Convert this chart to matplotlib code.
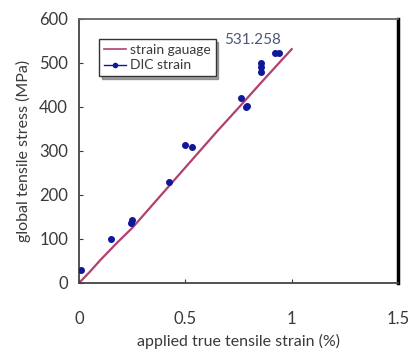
import matplotlib
matplotlib.use('Agg')
import matplotlib.pyplot as plt
from matplotlib.lines import Line2D

# strain gauge curve (applied true strain %, stress MPa)
gauge_strain = [0.0, 0.05, 0.1, 0.18, 0.25, 0.35, 0.45, 0.55, 0.65, 0.75, 0.85, 0.95, 1.0]
gauge_stress = [0, 25, 52, 92, 125, 180, 235, 290, 345, 398, 452, 505, 531.258]

# DIC strain points
dic_strain = [0.01, 0.15, 0.245, 0.25, 0.425, 0.50, 0.53, 0.76, 0.785, 0.79, 0.855, 0.855, 0.855, 0.92, 0.94]
dic_stress = [30, 100, 137, 143, 230, 314, 309, 420, 400, 403, 500, 490, 480, 522, 522]

peak_label = '531.258'

plt.rcParams['font.family'] = ['Lato', 'DejaVu Sans']
text_color = '#3a3a3a'

fig = plt.figure(figsize=(4.12, 3.51), dpi=100)
ax = fig.add_axes([0.192, 0.194, 0.774, 0.752])

ax.plot(gauge_strain, gauge_stress, color='#b04070', linewidth=1.6, zorder=2)
ax.plot(dic_strain, dic_stress, linestyle='none', marker='o', markersize=4,
        color='#10189a', zorder=3)

ax.text(0.68, 553, peak_label, fontsize=11, color='#4a5a78', va='center', ha='left')

ax.set_xlim(0, 1.5)
ax.set_ylim(0, 600)
ax.set_xticks([0, 0.5, 1, 1.5])
ax.set_xticklabels(['0', '0.5', '1', '1.5'])
ax.set_yticks([0, 100, 200, 300, 400, 500, 600])
ax.tick_params(axis='x', direction='in', length=3, pad=20, labelsize=12, colors=text_color)
ax.tick_params(axis='y', direction='in', length=3, pad=8, labelsize=12, colors=text_color)

for side in ['left', 'bottom']:
    ax.spines[side].set_color('#444444')
    ax.spines[side].set_linewidth(1.3)
ax.spines['top'].set_color('#666666')
ax.spines['top'].set_linewidth(1.3)
ax.spines['right'].set_color('black')
ax.spines['right'].set_linewidth(2.5)

ax.set_xlabel('applied true tensile strain (%)', fontsize=11.5, color=text_color, labelpad=5)
ax.set_ylabel('global tensile stress (MPa)', fontsize=11.5, color=text_color, labelpad=6)

handles = [Line2D([], [], color='#b04070', linewidth=1.2),
           Line2D([], [], color='#10189a', linewidth=1.0, marker='o', markersize=3)]
leg = ax.legend(handles, ['strain gauage', 'DIC strain'], loc='upper left',
                bbox_to_anchor=(0.04, 0.95), fontsize=10, frameon=True, fancybox=False,
                shadow=True, handlelength=1.6, handletextpad=0.3, borderpad=0.35,
                labelspacing=0.25)
leg.get_frame().set_edgecolor('#333333')
leg.get_frame().set_linewidth(1.0)
for t in leg.get_texts():
    t.set_color(text_color)

fig.savefig('out.png', dpi=100)
